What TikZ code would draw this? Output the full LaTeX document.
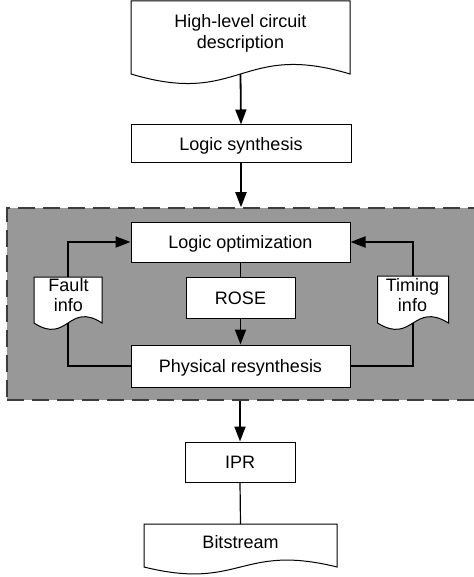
\documentclass[tikz,border=0pt]{standalone}
\usepackage{fontspec}
\setmainfont{Liberation Sans}
\usetikzlibrary{arrows.meta,calc}
\definecolor{regiongray}{RGB}{152,152,152}
\definecolor{dashgray}{RGB}{60,60,60}
\newcommand{\docwave}[2]{%
  \draw[docline] (#1.north west) -- (#1.north east) -- (#1.south east)
    .. controls ($(#1.south)+(0,-#2)$) and ($(#1.south)+(0,#2)$) .. (#1.south west) -- cycle;}
\begin{document}
\begin{tikzpicture}[x=1pt,y=-1pt,
  font=\fontsize{18}{20.5}\selectfont,
  box/.style={draw, fill=white, line width=1pt, inner sep=0pt, text height=13pt, text depth=0pt},
  docnode/.style={draw=none, inner sep=0pt, outer sep=0pt},
  docline/.style={draw, fill=white, line width=1pt},
  doctext/.style={align=center, inner sep=0pt},
  arr/.style={line width=1.8pt, -{Triangle[length=15pt,width=11pt]}},
  link/.style={line width=1.8pt},
  thinlink/.style={line width=1.2pt},
  region/.style={fill=regiongray, draw=dashgray, line width=1.5pt, dash pattern=on 17pt off 8pt, inner sep=0pt}]
\useasboundingbox (0,0) rectangle (473,577);

% grey region (its right edge lies beyond the picture)
\node[region, minimum width=493pt, minimum height=192pt] (grp) at (253.5,304) {};

% document shapes
\node[docnode, minimum width=219pt, minimum height=73pt] (hl) at (240.5,37.5) {};
\docwave{hl}{33}
\node[doctext] (hlt) at (240.5,33.5) {High-level circuit\\description};

\node[docnode, minimum width=68pt, minimum height=46pt] (fault) at (68,300) {};
\docwave{fault}{22}
\node[doctext] (faultt) at (68.5,295) {Fault\\info};

\node[docnode, minimum width=71pt, minimum height=47pt] (timing) at (413,299.5) {};
\docwave{timing}{22}
\node[doctext] (timingt) at (412.5,295) {Timing\\info};

\node[docnode, minimum width=193pt, minimum height=43pt] (bit) at (240.5,545.5) {};
\docwave{bit}{24}
\node[doctext, text height=13pt, text depth=0pt] (bitt) at (240.5,542) {Bitstream};

% boxes
\node[box, minimum width=220pt, minimum height=38pt] (ls) at (241,144) {Logic synthesis};
\node[box, minimum width=219pt, minimum height=40pt] (lo) at (240.5,242) {Logic optimization};
\node[box, minimum width=109pt, minimum height=41pt] (rose) at (240.5,297.5) {ROSE};
\node[box, minimum width=219pt, minimum height=42pt] (pr) at (240.5,366) {Physical resynthesis};
\node[box, minimum width=110pt, minimum height=40pt] (ipr) at (240,462) {IPR};

% connectors
\draw[arr] (hl.south) -- (ls.north);
\draw[arr] (ls.south) -- (ls.south |- grp.north);
\draw[thinlink] (lo.south) -- (rose.north);
\draw[arr] (rose.south) -- (pr.north);
\draw[link] (pr.west) -| (fault.south);
\draw[arr] (fault.north) |- (lo.west);
\draw[link] (pr.east) -| (timing.south);
\draw[arr] (timing.north) |- (lo.east);
\draw[arr] (ipr.north |- grp.south) -- (ipr.north);
\draw[thinlink] (ipr.south) -- (bit.north);
\end{tikzpicture}
\end{document}
